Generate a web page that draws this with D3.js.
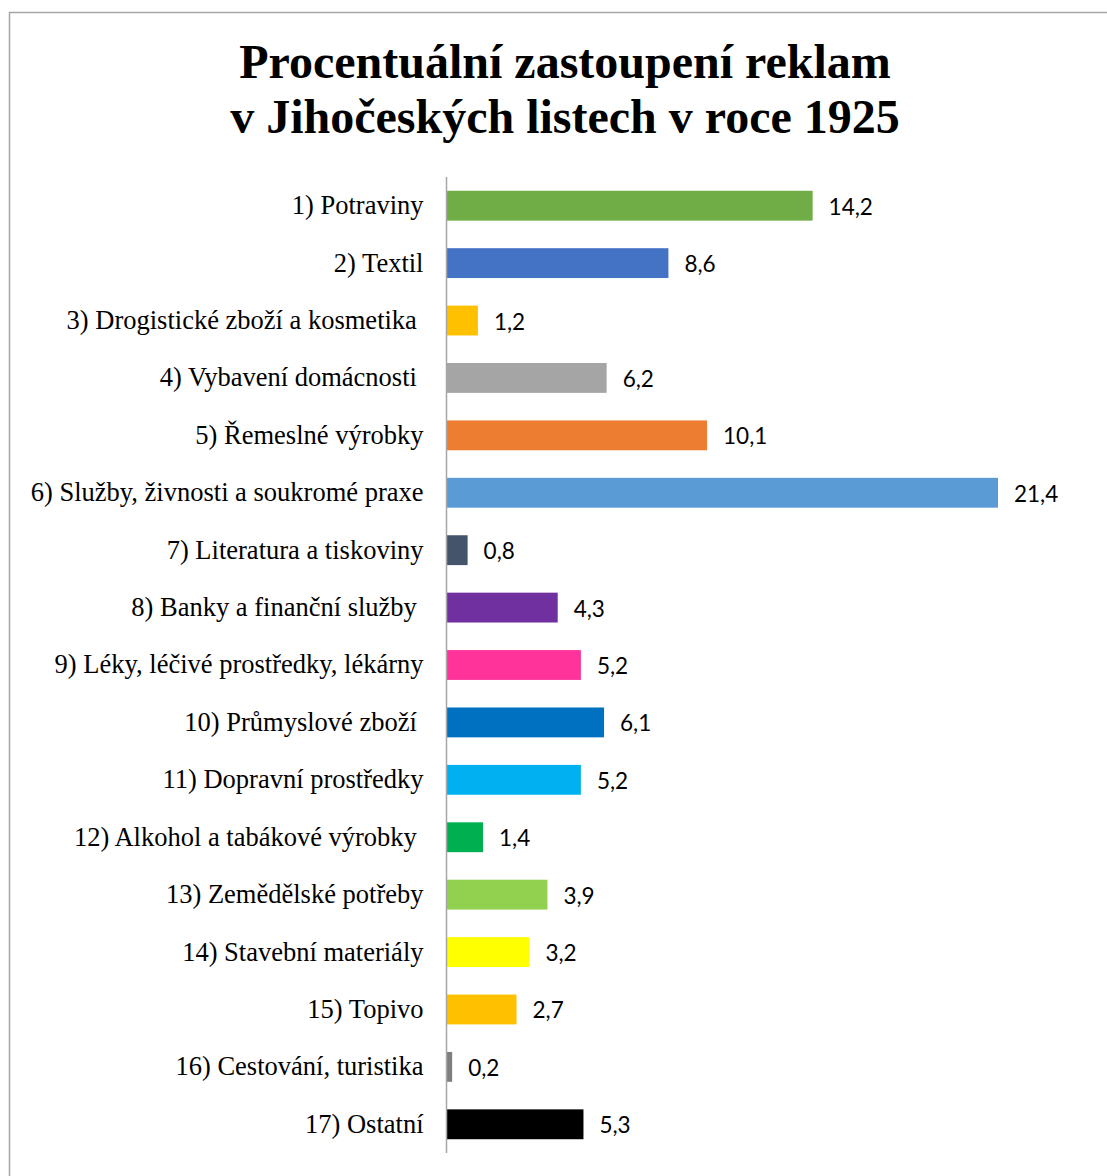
<!DOCTYPE html>
<html>
<head>
<meta charset="utf-8">
<script src="https://cdn.jsdelivr.net/npm/d3@7"></script>
<style>
  body { margin: 0; background: #fff; }
  svg text { white-space: pre; }
</style>
</head>
<body>
<div id="chartContainer"></div>
<script>
// Data
const categories = [
    "1) Potraviny",
    "2) Textil",
    "3) Drogistické zboží a kosmetika ",
    "4) Vybavení domácnosti ",
    "5) Řemeslné výrobky",
    "6) Služby, živnosti a soukromé praxe",
    "7) Literatura a tiskoviny",
    "8) Banky a finanční služby ",
    "9) Léky, léčivé prostředky, lékárny",
    "10) Průmyslové zboží ",
    "11) Dopravní prostředky",
    "12) Alkohol a tabákové výrobky ",
    "13) Zemědělské potřeby",
    "14) Stavební materiály",
    "15) Topivo",
    "16) Cestování, turistika",
    "17) Ostatní"
];
const values = [14.2, 8.6, 1.2, 6.2, 10.1, 21.4, 0.8, 4.3, 5.2, 6.1, 5.2, 1.4, 3.9, 3.2, 2.7, 0.2, 5.3];
const barColors = [
    "#70AD47", "#4472C4", "#FFC000", "#A5A5A5", "#ED7D31", "#5B9BD5", "#44546A",
    "#7030A0", "#FF3399", "#0070C0", "#00B0F0", "#00B050", "#92D050", "#FFFF00",
    "#FFC000", "#7F7F7F", "#000000"
];
const titleLines = ["Procentuální zastoupení reklam", "v Jihočeských listech v roce 1925"];

const data = categories.map((c, i) => ({ name: c, value: values[i], color: barColors[i] }));

const svgWidth = 1107;
const svgHeight = 1176;

const svg = d3.select("#chartContainer")
    .append("svg")
    .attr("width", svgWidth)
    .attr("height", svgHeight);

// chart frame (only left and top edges are visible in the picture)
svg.append("rect")
    .attr("x", 9.5)
    .attr("y", 12.5)
    .attr("width", 1120)
    .attr("height", 1200)
    .attr("fill", "none")
    .attr("stroke", "#A6A6A6")
    .attr("stroke-width", 1.5);

// title
svg.append("text")
    .attr("x", 565)
    .attr("y", 78)
    .attr("text-anchor", "middle")
    .attr("font-family", "'Liberation Serif', 'Times New Roman', serif")
    .attr("font-weight", "bold")
    .attr("font-size", 48)
    .selectAll("tspan")
    .data(titleLines)
    .enter()
    .append("tspan")
    .attr("x", 565)
    .attr("dy", (d, i) => i === 0 ? 0 : 55)
    .text(d => d);

const x0 = 447;
const xScale = d3.scaleLinear()
    .domain([0, 21.4])
    .range([x0, 998]);

const yScale = d3.scaleBand()
    .domain(categories)
    .range([177, 1153])
    .paddingInner(0.48)
    .paddingOuter(0.24);

// bars
svg.selectAll(".bar")
    .data(data)
    .enter()
    .append("rect")
    .attr("class", "bar")
    .attr("x", xScale(0))
    .attr("y", d => yScale(d.name))
    .attr("width", d => xScale(d.value) - xScale(0))
    .attr("height", yScale.bandwidth())
    .attr("fill", d => d.color);

// value labels
svg.selectAll(".value")
    .data(data)
    .enter()
    .append("text")
    .attr("class", "value")
    .attr("x", d => xScale(d.value) + 16)
    .attr("y", d => yScale(d.name) + yScale.bandwidth() / 2)
    .attr("dy", ".4em")
    .attr("font-family", "Lato, 'Open Sans', sans-serif")
    .attr("font-size", 22.5)
    .attr("fill", "#000")
    .text(d => d3.format(".1f")(d.value).replace(".", ","));

// category axis
const yAxis = d3.axisLeft(yScale).tickSize(0).tickPadding(23);
const axisG = svg.append("g")
    .attr("transform", `translate(${x0 - 0.5}, 0)`)
    .call(yAxis);

axisG.select(".domain")
    .attr("stroke", "#A6A6A6")
    .attr("stroke-width", 1.5)
    .attr("d", "M0,177V1153");

axisG.selectAll("text")
    .attr("font-family", "'Liberation Serif', 'Times New Roman', serif")
    .attr("font-size", 26.5)
    .attr("fill", "#000")
    .style("white-space", "pre");
</script>
</body>
</html>
